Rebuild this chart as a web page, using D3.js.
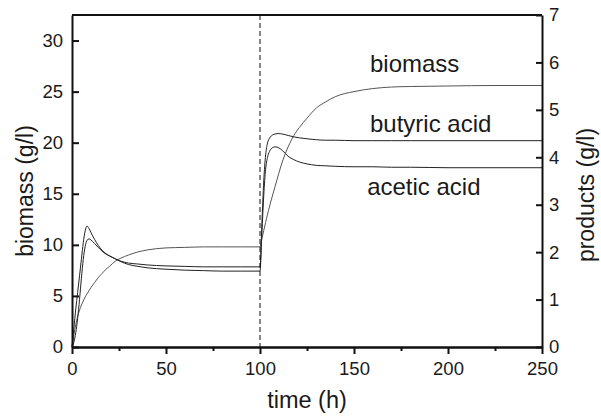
<!DOCTYPE html>
<html>
<head>
<meta charset="utf-8">
<script src="https://cdn.jsdelivr.net/npm/d3@7"></script>
<style>
  body { margin: 0; background: #fff; }
  svg text { font-family: "Liberation Sans", Arial, Helvetica, sans-serif; fill: #1a1a1a; }
</style>
</head>
<body>
<div id="chart"></div>
<script>
// time points (h)
const time = [0, 1, 2, 3, 4, 5, 6, 7, 8, 9, 10, 12, 14, 16, 18, 20, 23, 26, 30, 35, 40, 50, 60, 70, 80, 90, 100,
  101, 102, 103, 104, 105, 106, 108, 110, 112, 115, 118, 121, 125, 130, 135, 140, 150, 160, 170, 180, 200, 225, 250];

// biomass (g/l), left axis
const biomass = [0, 1.2, 2.2, 3.0, 3.6, 4.1, 4.5, 4.9, 5.2, 5.5, 5.8, 6.3, 6.8, 7.2, 7.6, 7.9, 8.4, 8.7, 9.0, 9.3, 9.5, 9.7, 9.75, 9.8, 9.8, 9.8, 9.8,
  10.6, 11.4, 12.2, 13.0, 13.7, 14.4, 15.7, 17.0, 18.2, 19.6, 20.7, 21.5, 22.4, 23.4, 24.0, 24.5, 25.0, 25.3, 25.45, 25.5, 25.55, 25.6, 25.6];

// products (g/l), right axis
const butyric = [0, 0.1, 0.3, 0.6, 1.0, 1.45, 1.85, 2.12, 2.25, 2.28, 2.26, 2.18, 2.1, 2.02, 1.96, 1.92, 1.86, 1.81, 1.77, 1.75, 1.73, 1.71, 1.70, 1.69, 1.69, 1.69, 1.69,
  2.6, 3.5, 4.05, 4.3, 4.4, 4.45, 4.49, 4.5, 4.49, 4.46, 4.43, 4.41, 4.39, 4.37, 4.36, 4.36, 4.35, 4.35, 4.35, 4.35, 4.35, 4.35, 4.35];
const acetic = [0, 0.4, 0.8, 1.15, 1.5, 1.85, 2.2, 2.45, 2.55, 2.5, 2.42, 2.27, 2.14, 2.04, 1.97, 1.92, 1.86, 1.8, 1.74, 1.70, 1.67, 1.64, 1.62, 1.61, 1.60, 1.60, 1.60,
  2.4, 3.2, 3.75, 4.0, 4.12, 4.18, 4.22, 4.2, 4.14, 4.02, 3.95, 3.90, 3.86, 3.83, 3.82, 3.81, 3.80, 3.80, 3.79, 3.79, 3.78, 3.78, 3.78];

const xTicks = [0, 50, 100, 150, 200, 250];
const xMinorTicks = [25, 75, 125, 175, 225];
const leftTicks = [0, 5, 10, 15, 20, 25, 30];
const rightTicks = [0, 1, 2, 3, 4, 5, 6, 7];
const switchTime = 100;

const labels = [
  { text: "biomass", t: 158.5, y: 72 },
  { text: "butyric acid", t: 158.5, y: 132 },
  { text: "acetic acid", t: 157, y: 195 }
];

let width = 601, height = 417;
let mLeft = 72, mRight = 542, mTop = 15, mBottom = 347;

let svg = d3.select("#chart").append("svg")
  .attr("width", width)
  .attr("height", height);

let x = d3.scaleLinear().domain([0, 250]).range([mLeft, mRight]);
let yL = d3.scaleLinear().domain([0, 32.5]).range([mBottom, mTop]);
let yR = d3.scaleLinear().domain([0, 7]).range([mBottom, mTop]);

// curves
let lineL = d3.line().x((d, i) => x(time[i])).y(d => yL(d)).curve(d3.curveMonotoneX);
let lineR = d3.line().x((d, i) => x(time[i])).y(d => yR(d)).curve(d3.curveMonotoneX);

svg.append("path").attr("d", lineL(biomass))
  .attr("fill", "none").attr("stroke", "#555").attr("stroke-width", 1);
svg.append("path").attr("d", lineR(butyric))
  .attr("fill", "none").attr("stroke", "#222").attr("stroke-width", 1);
svg.append("path").attr("d", lineR(acetic))
  .attr("fill", "none").attr("stroke", "#222").attr("stroke-width", 1);

// dashed line at the switch
svg.append("line")
  .attr("x1", x(switchTime)).attr("x2", x(switchTime))
  .attr("y1", mTop).attr("y2", mBottom)
  .attr("stroke", "#111").attr("stroke-width", 1)
  .attr("stroke-dasharray", "5,3");

// frame
svg.append("line").attr("x1", mLeft).attr("x2", mRight).attr("y1", mTop).attr("y2", mTop)
  .attr("stroke", "#111").attr("stroke-width", 2);

// axes
svg.append("g").attr("transform", `translate(0,${mBottom})`)
  .call(d3.axisBottom(x).tickValues(xTicks).tickSizeInner(7).tickSizeOuter(0).tickPadding(8));
svg.append("g").attr("transform", `translate(0,${mBottom})`)
  .call(d3.axisBottom(x).tickValues(xMinorTicks).tickSizeInner(4).tickSizeOuter(0).tickFormat(""));
svg.append("g").attr("transform", `translate(${mLeft},0)`)
  .call(d3.axisLeft(yL).tickValues(leftTicks).tickSizeInner(-7).tickSizeOuter(0).tickPadding(9));
svg.append("g").attr("transform", `translate(${mRight},0)`)
  .call(d3.axisRight(yR).tickValues(rightTicks).tickFormat(d3.format("d"))
    .tickSizeInner(-6).tickSizeOuter(0).tickPadding(7));

svg.selectAll(".domain").attr("stroke", "#111").attr("stroke-width", 2);
svg.selectAll(".tick line").attr("stroke", "#111").attr("stroke-width", 2);
svg.selectAll(".tick text").attr("font-size", "18.5px")
  .attr("font-family", "Liberation Sans, Arial, sans-serif").attr("fill", "#1a1a1a");

// axis titles
svg.append("text")
  .attr("x", (mLeft + mRight) / 2).attr("y", 408)
  .attr("text-anchor", "middle").attr("font-size", "23.5px")
  .text("time (h)");

svg.append("text")
  .attr("transform", "translate(33,191) rotate(-90)")
  .attr("text-anchor", "middle").attr("font-size", "23px")
  .text("biomass (g/l)");

svg.append("text")
  .attr("transform", "translate(594,195) rotate(-90)")
  .attr("text-anchor", "middle").attr("font-size", "23px")
  .text("products (g/l)");

// curve labels
svg.selectAll(".clabel")
  .data(labels)
  .join("text")
  .attr("class", "clabel")
  .attr("x", d => x(d.t))
  .attr("y", d => d.y)
  .attr("font-size", "24px")
  .text(d => d.text);
</script>
</body>
</html>
